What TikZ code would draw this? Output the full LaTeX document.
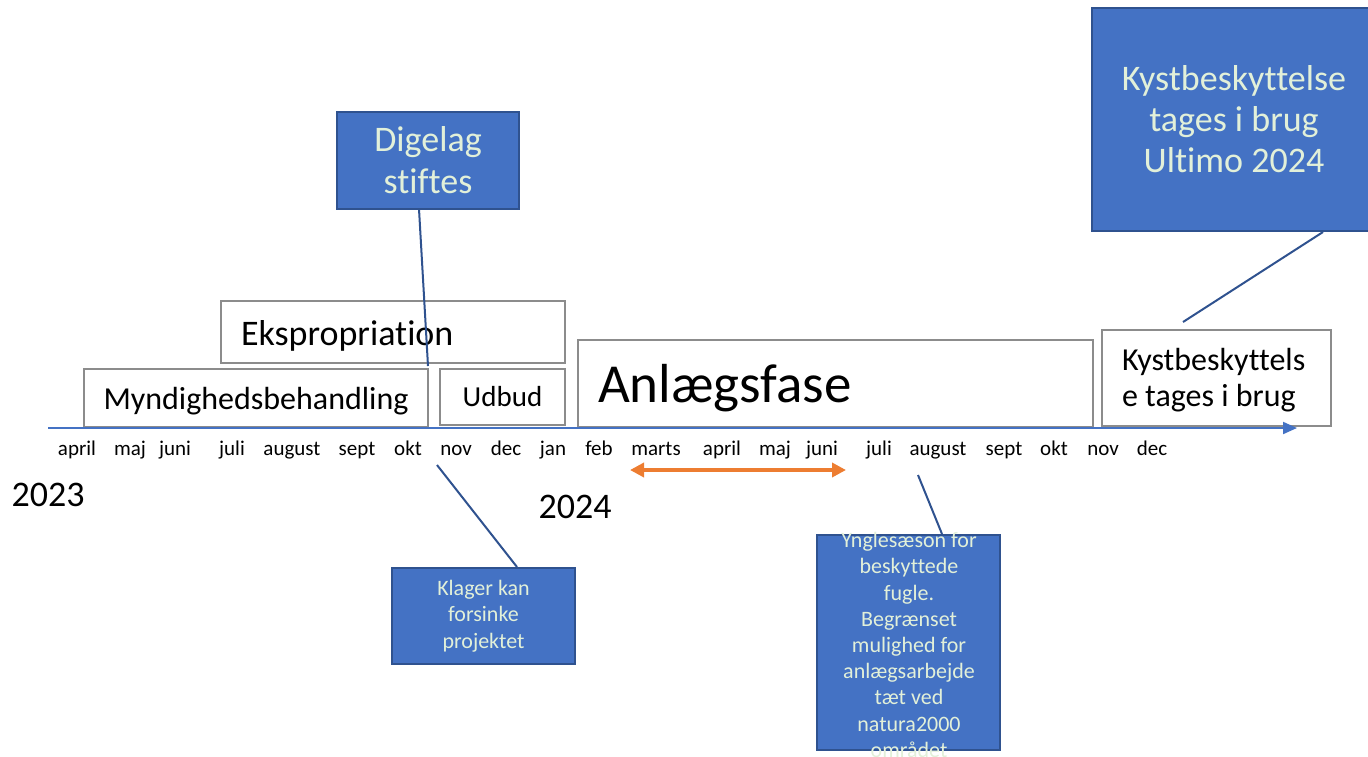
\documentclass[tikz,border=0pt]{standalone}
\usepackage{fontspec}
\setmainfont{Carlito}[RawFeature={-liga;-clig;-calt;-dlig}]
\usetikzlibrary{arrows.meta}

\definecolor{boxblue}{HTML}{4472C4}
\definecolor{boxedge}{HTML}{2F528F}
\definecolor{boxtext}{HTML}{E2F0D9}
\definecolor{phaseedge}{HTML}{8C8C8C}
\definecolor{nestorange}{HTML}{ED7D31}

\newcommand{\lowered}[2]{\raisebox{-#1}[\height][\depth]{#2}}

\tikzset{
  phasebox/.style={draw=phaseedge, line width=1.5pt, fill=white, inner xsep=20pt, inner ysep=0pt, align=flush left},
  notebox/.style={draw=boxedge, line width=2pt, fill=boxblue, text=boxtext, inner sep=0pt, align=center},
  callout/.style={draw=boxedge, line width=2pt},
  month/.style={font=\fontsize{21}{24}\selectfont, inner sep=0pt, anchor=base}
}

\begin{document}
\begin{tikzpicture}[x=1pt, y=-1pt]
	\useasboundingbox (0,0) rectangle (1368,756);

	% phases
	\node[phasebox, minimum width=344pt, minimum height=58pt, align=center, inner xsep=0pt,
		font=\fontsize{32}{36}\selectfont] (myndighed) at (256,398) {\lowered{3pt}{Myndighedsbehandling}};
	\node[phasebox, text width=304pt, minimum height=62pt,
		font=\fontsize{36}{40}\selectfont] (ekspropriation) at (393,332) {\lowered{4pt}{Ekspropriation}};
	\node[phasebox, minimum width=125pt, minimum height=56pt, align=center, inner xsep=0pt,
		font=\fontsize{29}{33}\selectfont] (udbud) at (502.5,397) {Udbud};
	\node[phasebox, text width=475pt, minimum height=87pt,
		font=\fontsize{55}{60}\selectfont] (anlaeg) at (835.5,383.5) {\lowered{5pt}{Anlægsfase}};
	\node[phasebox, text width=189pt, minimum height=96pt,
		font=\fontsize{32}{36}\selectfont] (ibrug) at (1216.5,378) {\lowered{2pt}{Kystbeskyttels}\\\lowered{2pt}{e tages i brug}};

	% time axis
	\coordinate (axisstart) at (48,428);
	\coordinate (axisend) at (1297,428);
	\draw[boxblue, line width=2pt, -{Triangle[length=14pt, width=12pt]}] (axisstart) -- (axisend);

	\foreach \mname/\mx [count=\i] in {april/77, maj/130, juni/175, juli/232, august/292, sept/357, okt/408, nov/456, dec/506, jan/553, feb/599, marts/656, april/722, maj/775, juni/822, juli/879, august/938, sept/1004, okt/1054, nov/1103, dec/1152}
		\node[month] (m\i) at (\mx,455) {\mname};

	\node[font=\fontsize{36}{40}\selectfont] (year1) at (48,495) {2023};
	\node[font=\fontsize{36}{40}\selectfont] (year2) at (575,507) {2024};

	% notes
	\node[notebox, minimum width=182pt, minimum height=97pt,
		font=\fontsize{36}{42}\selectfont] (digelag) at (428,160.5) {Digelag\\stiftes};
	\node[notebox, minimum width=284pt, minimum height=223pt,
		font=\fontsize{36}{41}\selectfont] (ultimo) at (1234,119.5) {Kystbeskyttelse\\tages i brug\\Ultimo 2024};
	\node[notebox, minimum width=183pt, minimum height=96pt,
		font=\fontsize{22}{26.5}\selectfont] (klager) at (483.5,616) {Klager kan\\forsinke\\projektet};
	\node[notebox, minimum width=183pt, minimum height=215pt] (yngle) at (908.5,642.5) {};
	\node[text=boxtext, align=center, inner sep=0pt,
		font=\fontsize{22}{26.2}\selectfont] (yngletext) at (909,645) {Ynglesæson for\\beskyttede\\fugle.\\Begrænset\\mulighed for\\anlægsarbejde\\tæt ved\\natura2000\\området};

	% breeding season
	\coordinate (nestfrom) at (630,470);
	\coordinate (nestto) at (846,470);
	\draw[nestorange, line width=4pt, {Triangle[length=14pt, width=14pt]}-{Triangle[length=14pt, width=14pt]}] (nestfrom) -- (nestto);

	% callout lines
	\coordinate (digelagfoot) at (419,209);
	\coordinate (digelagtip) at (428,366);
	\draw[callout] (digelagfoot) -- (digelagtip);

	\coordinate (klagertip) at (437,465);
	\coordinate (klagerfoot) at (517,567);
	\draw[callout] (klagertip) -- (klagerfoot);

	\coordinate (ngletip) at (918,475);
	\coordinate (nglefoot) at (942,534);
	\draw[callout] (ngletip) -- (nglefoot);

	\coordinate (ultimofoot) at (1323,232);
	\coordinate (ultimotip) at (1183,322);
	\draw[callout] (ultimofoot) -- (ultimotip);
\end{tikzpicture}
\end{document}
